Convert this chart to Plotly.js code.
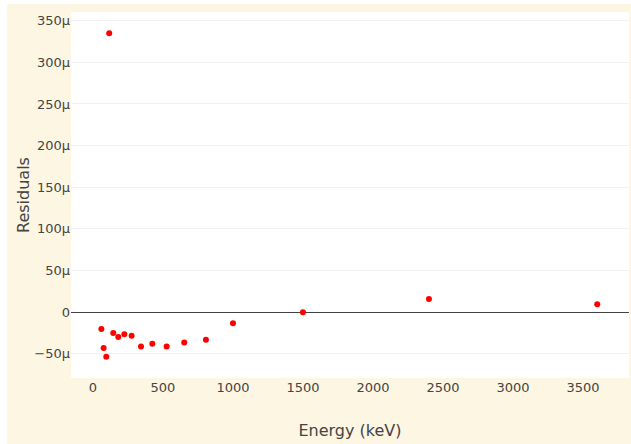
<!DOCTYPE html>
<html>
<head>
<meta charset="utf-8">
<script src="https://cdn.plot.ly/plotly-3.0.1.min.js"></script>
<style>
html,body{margin:0;padding:0;background:#ffffff;overflow:hidden;}
#chart{position:absolute;left:7px;top:4px;width:624px;height:440px;}
</style>
</head>
<body>
<div id="chart"></div>
<script>
var energies = [60, 76, 95, 116, 145, 181, 224, 276, 343, 424, 526, 652, 807, 1000, 1500, 2400, 3602];
var residuals = [-20.4e-6, -43.3e-6, -53.7e-6, 335e-6, -25.3e-6, -30e-6, -26.8e-6, -28.4e-6, -41.3e-6, -38e-6, -41.3e-6, -36.5e-6, -33.2e-6, -13.6e-6, -0.4e-6, 15.6e-6, 9.2e-6];
var xTitle = "Energy (keV)";
var yTitle = "Residuals";

var trace = {
  x: energies,
  y: residuals,
  type: "scatter",
  mode: "markers",
  marker: {color: "red", size: 6}
};

var layout = {
  width: 624,
  height: 440,
  paper_bgcolor: "#fdf6e3",
  plot_bgcolor: "#ffffff",
  margin: {l: 64, r: 2, t: 8, b: 66},
  font: {family: "DejaVu Sans, Verdana, sans-serif", size: 13, color: "#444"},
  showlegend: false,
  xaxis: {
    title: {text: xTitle, font: {size: 16}},
    range: [-157, 3829],
    tickvals: [0, 500, 1000, 1500, 2000, 2500, 3000, 3500],
    showgrid: false,
    zeroline: false
  },
  yaxis: {
    title: {text: yTitle, font: {size: 16}},
    range: [-79.3e-6, 360.5e-6],
    dtick: 50e-6,
    exponentformat: "SI",
    gridcolor: "#f2f2f2",
    zeroline: true,
    zerolinecolor: "#444",
    zerolinewidth: 1
  }
};

Plotly.newPlot("chart", [trace], layout, {displayModeBar: false, staticPlot: true});
</script>
</body>
</html>
